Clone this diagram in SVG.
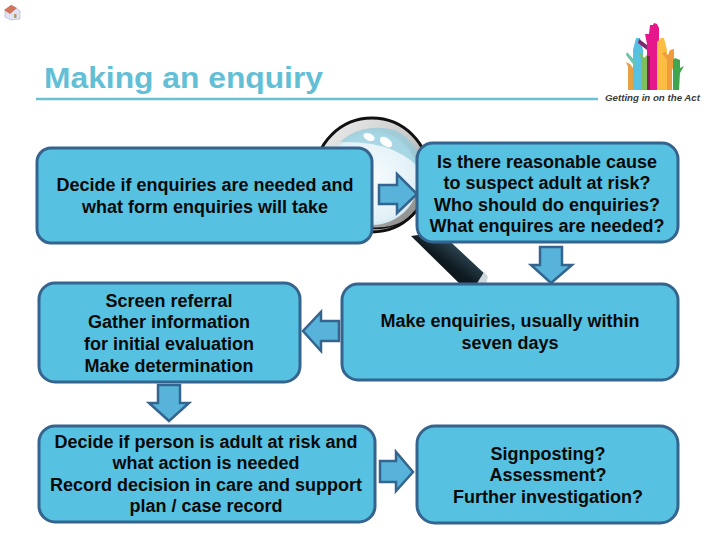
<svg xmlns="http://www.w3.org/2000/svg" width="720" height="540" viewBox="0 0 720 540">
<style>
.box{fill:#57c1e1;stroke:#35658f;stroke-width:3}
.arr{fill:#57b3d9;stroke:#35658f;stroke-width:2.5;stroke-linejoin:miter}
text{font-family:"Liberation Sans",Arial,sans-serif}
.t{font-size:18px;font-weight:700;fill:#0a0a0a;text-anchor:middle}
</style>
<defs>
<radialGradient id="lens" cx="0.5" cy="0.5" r="0.6"><stop offset="0" stop-color="#f6fbfd"/><stop offset="0.75" stop-color="#e2f1f7"/><stop offset="1" stop-color="#b5d9e7"/></radialGradient>
<linearGradient id="ring" x1="0" y1="0" x2="1" y2="1"><stop offset="0" stop-color="#f2f2f2"/><stop offset="0.5" stop-color="#c9c9c9"/><stop offset="1" stop-color="#777"/></linearGradient>
<linearGradient id="handle" x1="0" y1="1" x2="1" y2="0"><stop offset="0" stop-color="#0a0f12"/><stop offset="0.45" stop-color="#0f1a20"/><stop offset="0.7" stop-color="#2f4a58"/><stop offset="1" stop-color="#0a0f12"/></linearGradient>
</defs>
<g id="home-icon">
<path d="M5 10L12 5L20 11V19L11 20L5 17Z" fill="#dfe3f2" stroke="#a9aecb" stroke-width="0.6"/>
<path d="M4 10L11 5L17 8L10 14Z" fill="#d0745c"/>
<rect x="14" y="14" width="2.5" height="4" fill="#b59a6a"/>
</g>
<g id="title">
<text x="44" y="88" font-size="30" font-weight="700" fill="#62bfd6" textLength="279" lengthAdjust="spacingAndGlyphs">Making an enquiry</text>
<line x1="36" y1="99" x2="598" y2="99" stroke="#6cc0d4" stroke-width="2.5"/>
</g>
<g id="logo">
<path d="M628 90V67L626 62 630 64 633 68V90Z" fill="#e4a244"/>
<path d="M633 90V50L636 38H640L643 50V90Z" fill="#57c1e1"/>
<path d="M627 52L636 62V68L626 55Z" fill="#6ec3a8"/>
<path d="M642 90V60L639 53 642 54 644 58 647 55V90Z" fill="#7ebf5b"/>
<path d="M647 90V44L645 34H649L650 25H653L654 23 657 24 659 28V45L657 52V90Z" fill="#e5178a"/>
<path d="M639 39L647 45V50L638 43Z" fill="#7c2a6c"/>
<path d="M647 56H650V90H647Z" fill="#8a1f50"/>
<path d="M657 90V42L661 38 664 38 667 50V90Z" fill="#fbbe43"/>
<path d="M667 90V60L662 53 665 52 668 55 670 50 674 49 674 66 672 70V90Z" fill="#ee9c3c"/>
<path d="M673 90V60L675 58 680 60V68L684 66 680 73 679 90Z" fill="#3fa650"/>
<text x="605" y="101" font-size="9.5" font-weight="700" font-style="italic" fill="#3b3b3b" textLength="95" lengthAdjust="spacingAndGlyphs">Getting in on the Act</text>
</g>
<g id="magnifier">
<path d="M411 236L440 232 487 276 486 282 463 287Z" fill="url(#handle)"/>
<path d="M476 285L484 272 488 277 486 283Z" fill="#cfd8dc"/>
<circle cx="372" cy="175" r="57" fill="url(#ring)" stroke="#111" stroke-width="3"/>
<path d="M330 205A57 57 0 0 0 417 212A60 60 0 0 1 330 205Z" fill="#111"/>
<circle cx="372" cy="178" r="47" fill="url(#lens)"/>
<path d="M340 142Q362 122 395 130Q420 142 425 175Q400 140 340 142Z" fill="#8fcbdc" opacity="0.7"/>
<ellipse cx="369" cy="137" rx="6" ry="3.5" fill="#fff" transform="rotate(25 369 137)"/>
<ellipse cx="386" cy="142" rx="7" ry="4" fill="#fff" transform="rotate(35 386 142)"/>
</g>
<g id="connectors">
<path class="arr" d="M379 185H397V174L417 194 397 213V204H379Z"/>
<path class="arr" d="M540 247H562V265H572L551 283 531 265H540Z"/>
<path class="arr" d="M339 321H321V312L303 331 321 351V341H339Z"/>
<path class="arr" d="M158 385H180V403H189L169 421 149 403H158Z"/>
<path class="arr" d="M380 461H396V452L413 472 396 491V482H380Z"/>
</g>
<g id="node-1">
<rect class="box" x="37" y="148" width="335" height="95" rx="14"/>
<text class="t" x="205" y="190.5">Decide if enquiries are needed and</text>
<text class="t" x="205" y="212.5">what form enquiries will take</text>
</g>
<g id="node-2">
<rect class="box" x="417" y="143" width="261" height="99" rx="16"/>
<text class="t" x="547" y="167.5">Is there reasonable cause</text>
<text class="t" x="547" y="188.5">to suspect adult at risk?</text>
<text class="t" x="547" y="210.5">Who should do enquiries?</text>
<text class="t" x="547" y="231.5">What enquires are needed?</text>
</g>
<g id="node-3">
<rect class="box" x="39" y="283" width="261" height="99" rx="16"/>
<text class="t" x="169" y="306.5">Screen referral</text>
<text class="t" x="169" y="327.5">Gather information</text>
<text class="t" x="169" y="349.5">for initial evaluation</text>
<text class="t" x="169" y="371.5">Make determination</text>
</g>
<g id="node-4">
<rect class="box" x="342" y="284" width="336" height="96" rx="16"/>
<text class="t" x="510" y="326.5">Make enquiries, usually within</text>
<text class="t" x="510" y="348.5">seven days</text>
</g>
<g id="node-5">
<rect class="box" x="39" y="426" width="336" height="96" rx="16"/>
<text class="t" x="206" y="447.5">Decide if person is adult at risk and</text>
<text class="t" x="206" y="468.5">what action is needed</text>
<text class="t" x="206" y="490.5">Record decision in care and support</text>
<text class="t" x="206" y="511.5">plan / case record</text>
</g>
<g id="node-6">
<rect class="box" x="417" y="426" width="261" height="97" rx="18"/>
<text class="t" x="548" y="459.5">Signposting?</text>
<text class="t" x="548" y="480.5">Assessment?</text>
<text class="t" x="548" y="502.5">Further investigation?</text>
</g>
</svg>
